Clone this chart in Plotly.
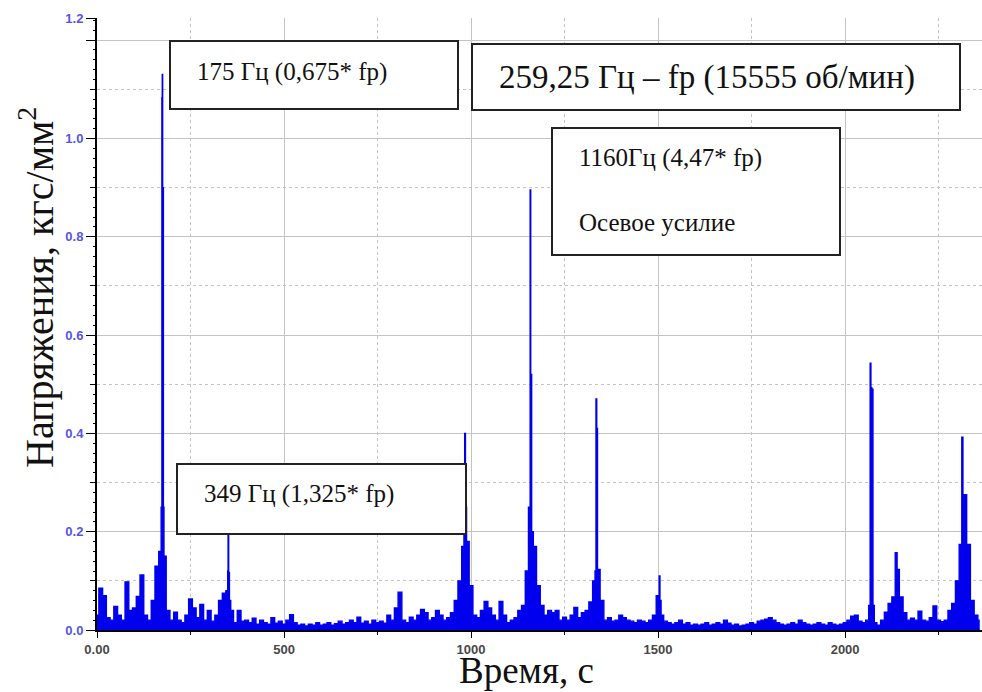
import plotly.graph_objects as go

# ---------------- data ----------------
# broadband spectrum read at 10-unit steps
base_freq = [
    0, 10, 20, 30, 40, 50, 60, 70, 80, 90, 100, 110, 120, 130, 140, 150, 160, 170, 180, 190,
    200, 210, 220, 230, 240, 250, 260, 270, 280, 290, 300, 310, 320, 330, 340, 350, 360, 370, 380, 390,
    400, 410, 420, 430, 440, 450, 460, 470, 480, 490, 500, 510, 520, 530, 540, 550, 560, 570, 580, 590,
    600, 610, 620, 630, 640, 650, 660, 670, 680, 690, 700, 710, 720, 730, 740, 750, 760, 770, 780, 790,
    800, 810, 820, 830, 840, 850, 860, 870, 880, 890, 900, 910, 920, 930, 940, 950, 960, 970, 980, 990,
    1000, 1010, 1020, 1030, 1040, 1050, 1060, 1070, 1080, 1090, 1100, 1110, 1120, 1130, 1140, 1150, 1160, 1170, 1180, 1190,
    1200, 1210, 1220, 1230, 1240, 1250, 1260, 1270, 1280, 1290, 1300, 1310, 1320, 1330, 1340, 1350, 1360, 1370, 1380, 1390,
    1400, 1410, 1420, 1430, 1440, 1450, 1460, 1470, 1480, 1490, 1500, 1510, 1520, 1530, 1540, 1550, 1560, 1570, 1580, 1590,
    1600, 1610, 1620, 1630, 1640, 1650, 1660, 1670, 1680, 1690, 1700, 1710, 1720, 1730, 1740, 1750, 1760, 1770, 1780, 1790,
    1800, 1810, 1820, 1830, 1840, 1850, 1860, 1870, 1880, 1890, 1900, 1910, 1920, 1930, 1940, 1950, 1960, 1970, 1980, 1990,
    2000, 2010, 2020, 2030, 2040, 2050, 2060, 2070, 2080, 2090, 2100, 2110, 2120, 2130, 2140, 2150, 2160, 2170, 2180, 2190,
    2200, 2210, 2220, 2230, 2240, 2250, 2260, 2270, 2280, 2290, 2300, 2310, 2320, 2330, 2340, 2350, 2360,
]
base_amp = [
    0.030, 0.085, 0.070, 0.025, 0.020, 0.048, 0.030, 0.020, 0.098, 0.040, 0.045, 0.068, 0.112, 0.030, 0.020, 0.060, 0.130, 0.160, 0.150, 0.040,
    0.020, 0.036, 0.020, 0.015, 0.030, 0.063, 0.045, 0.025, 0.052, 0.020, 0.040, 0.018, 0.030, 0.060, 0.075, 0.120, 0.040, 0.015, 0.040, 0.018,
    0.020, 0.015, 0.024, 0.012, 0.020, 0.015, 0.012, 0.025, 0.014, 0.018, 0.012, 0.020, 0.031, 0.015, 0.010, 0.012, 0.008, 0.012, 0.010, 0.015,
    0.010, 0.012, 0.015, 0.010, 0.013, 0.018, 0.012, 0.015, 0.020, 0.015, 0.026, 0.014, 0.018, 0.012, 0.020, 0.015, 0.018, 0.014, 0.030, 0.020,
    0.045, 0.077, 0.020, 0.015, 0.026, 0.020, 0.030, 0.042, 0.035, 0.020, 0.025, 0.040, 0.030, 0.020, 0.025, 0.035, 0.060, 0.100, 0.170, 0.180,
    0.090, 0.030, 0.025, 0.040, 0.058, 0.045, 0.030, 0.020, 0.058, 0.030, 0.015, 0.020, 0.025, 0.040, 0.050, 0.120, 0.180, 0.170, 0.090, 0.050,
    0.030, 0.040, 0.035, 0.040, 0.020, 0.026, 0.020, 0.030, 0.046, 0.025, 0.035, 0.040, 0.057, 0.100, 0.123, 0.060, 0.020, 0.025, 0.018, 0.020,
    0.030, 0.025, 0.020, 0.018, 0.015, 0.020, 0.018, 0.015, 0.020, 0.030, 0.070, 0.030, 0.018, 0.015, 0.012, 0.015, 0.020, 0.012, 0.015, 0.010,
    0.012, 0.010, 0.012, 0.015, 0.010, 0.012, 0.015, 0.012, 0.020, 0.014, 0.010, 0.012, 0.008, 0.010, 0.012, 0.015, 0.012, 0.018, 0.020, 0.022,
    0.025, 0.020, 0.015, 0.012, 0.010, 0.012, 0.015, 0.012, 0.020, 0.015, 0.012, 0.010, 0.012, 0.015, 0.012, 0.010, 0.015, 0.012, 0.010, 0.012,
    0.015, 0.020, 0.028, 0.030, 0.018, 0.015, 0.020, 0.060, 0.015, 0.010, 0.020, 0.036, 0.054, 0.067, 0.123, 0.067, 0.035, 0.020, 0.024, 0.020,
    0.038, 0.020, 0.018, 0.025, 0.049, 0.020, 0.017, 0.020, 0.040, 0.054, 0.100, 0.174, 0.275, 0.174, 0.060, 0.030, 0.020,
]
# narrow spectral lines
peak_freq = [173, 174, 175, 176, 177, 178,
             349, 351, 353, 355,
             982, 984, 986,
             1157, 1159, 1161, 1163,
             1333, 1335, 1337, 1339,
             1502, 1504, 1506,
             2066, 2068, 2070, 2073, 2076,
             2138,
             2314, 2316]
peak_amp = [0.250, 1.083, 1.130, 0.900, 0.900, 0.250,
            0.080, 0.198, 0.117, 0.060,
            0.300, 0.400, 0.250,
            0.250, 0.895, 0.520, 0.200,
            0.120, 0.470, 0.410, 0.120,
            0.070, 0.110, 0.060,
            0.050, 0.543, 0.493, 0.490, 0.050,
            0.157,
            0.392, 0.275]

y_tick_vals = [0.0, 0.2, 0.4, 0.6, 0.8, 1.0, 1.2, 1.245]
y_tick_text = ["0.0", "0.2", "0.4", "0.6", "0.8", "1.0", " ", "1.2"]
x_tick_vals = [0, 500, 1000, 1500, 2000]
x_tick_text = ["0.00", "500", "1000", "1500", "2000"]

# ---------------- figure ----------------
pts = sorted(zip(base_freq + peak_freq, base_amp + peak_amp))
fx = [p[0] for p in pts]
fy = [p[1] for p in pts]

W, H = 982, 692
L, R, T, B = 97, 982, 18, 630


def px(x):
    return (x - L) / (R - L)


def py(y):
    return (B - y) / (B - T)


fig = go.Figure()
fig.add_trace(go.Scatter(
    x=fx, y=fy, mode="lines",
    line=dict(color="#0000ee", width=1.4, shape="hvh"),
    fill="tozeroy", fillcolor="#0000ee",
    showlegend=False, hoverinfo="skip",
))

grid_col = "#c4c4c4"
fig.update_layout(
    width=W, height=H, autosize=False,
    margin=dict(l=L, r=W - R, t=T, b=H - B),
    paper_bgcolor="white", plot_bgcolor="white",
    showlegend=False,
    xaxis=dict(
        range=[0, 2366], tickvals=x_tick_vals, ticktext=x_tick_text,
        showgrid=True, gridcolor=grid_col, gridwidth=1,
        showline=True, linecolor="black", linewidth=2,
        ticks="outside", ticklen=6, tickcolor="black", tickwidth=1,
        tickfont=dict(family="Liberation Sans", size=13, color="#474747", weight="bold"),
        minor=dict(dtick=250, showgrid=True, gridcolor=grid_col, griddash="dot",
                   ticks="outside", ticklen=3, tickcolor="black"),
        zeroline=False,
    ),
    yaxis=dict(
        range=[0, 1.245], tickvals=y_tick_vals, ticktext=y_tick_text,
        showgrid=True, gridcolor=grid_col, gridwidth=1,
        showline=True, linecolor="black", linewidth=2,
        ticks="outside", ticklen=9, tickcolor="black", tickwidth=1,
        tickfont=dict(family="Liberation Sans", size=13, color="#5454e8", weight="bold"),
        minor=dict(dtick=0.1, showgrid=True, gridcolor=grid_col, griddash="dot",
                   ticks="outside", ticklen=5, tickcolor="black"),
        zeroline=False,
    ),
    yaxis2=dict(
        range=[0, 1.245], overlaying="y", side="left", anchor="x",
        dtick=0.02, ticks="outside", ticklen=3, tickcolor="black",
        showticklabels=False, showgrid=False, zeroline=False, showline=False,
    ),
)

# invisible trace to keep the overlay tick axis alive
fig.add_trace(go.Scatter(x=[0], y=[0], yaxis="y2", mode="markers",
                         marker=dict(opacity=0), showlegend=False, hoverinfo="skip"))

# boxes (left, top, right, bottom in pixels)
boxes = [
    (170, 41, 458, 109),
    (472, 44, 960, 110),
    (552, 128, 840, 255),
    (177, 464, 466, 534),
]
for (x0, y0, x1, y1) in boxes:
    fig.add_shape(type="rect", xref="paper", yref="paper",
                  x0=px(x0), x1=px(x1), y0=py(y1), y1=py(y0),
                  line=dict(color="#222222", width=2), fillcolor="white", layer="above")

serif = "Liberation Serif"
texts = [
    ("175 Гц (0,675* fp)", 195, 72, 25),
    ("259,25 Гц – fp (15555 об/мин)", 497, 77, 33),
    ("1160Гц (4,47* fp)<br><br>Осевое усилие", 577, 190, 25),
    ("349 Гц (1,325* fp)", 202, 494, 25),
]
for (t, x, y, s) in texts:
    fig.add_annotation(text=t, xref="paper", yref="paper", x=px(x), y=py(y),
                       xanchor="left", yanchor="middle", align="left", showarrow=False,
                       font=dict(family=serif, size=s, color="#111111"))

fig.add_annotation(text="Напряжения, кгс/мм<sup>2</sup>", xref="paper", yref="paper",
                   x=px(36), y=py(288), textangle=-90, showarrow=False,
                   xanchor="center", yanchor="middle",
                   font=dict(family=serif, size=40, color="#111111"))
fig.add_annotation(text="Время, с", xref="paper", yref="paper",
                   x=px(526), y=py(692), showarrow=False,
                   xanchor="center", yanchor="bottom", borderpad=0,
                   font=dict(family=serif, size=37, color="#111111"))

fig.write_html("out.html", config={"displayModeBar": False},
               post_script="document.body.style.margin='0px';")
